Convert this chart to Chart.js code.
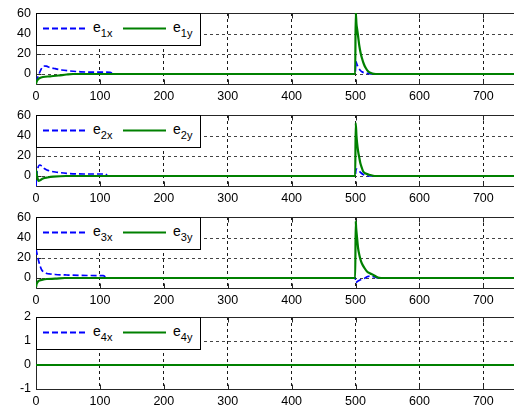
<!DOCTYPE html>
<html>
<head>
<meta charset="utf-8">
<script src="https://cdn.jsdelivr.net/npm/chart.js@4.4.1/dist/chart.umd.min.js"></script>
<style>
  html, body { margin: 0; padding: 0; background: #fff; overflow: hidden; width: 514px; height: 410px; }
  canvas { position: absolute; left: 0; }
  svg.leg { position: absolute; left: 36px; }
  svg.leg text { font-family: 'Liberation Sans', Arial, sans-serif; fill: #000; }
</style>
</head>
<body>
<canvas id="c1" width="514" height="106" style="top:0px"></canvas>
<canvas id="c2" width="514" height="106" style="top:102px"></canvas>
<canvas id="c3" width="514" height="106" style="top:204px"></canvas>
<canvas id="c4" width="514" height="107" style="top:304px"></canvas>
<div id="legends"></div>
<script>
// ---- tick labels ----
const xTicks = [0, 100, 200, 300, 400, 500, 600, 700];
const yTicksErr = [0, 20, 40, 60];
const yTicksZ = [-1, 0, 1, 2];

// ---- subplot 1 ----
const t1x = [0, 3, 6, 9, 12, 16, 22, 30, 40, 50, 70, 90, 116, 122, 499.5, 500.6, 502, 504, 507, 510, 514, 520, 528, 750];
const e1x = [-8, -3, 2, 6, 8, 7.8, 6.5, 5.3, 4, 3.2, 2.2, 1.9, 1.7, 0, 0, 12.5, 10, 7, 4, 2.2, 1.2, 0.5, 0, 0];
const t1y = [0, 1, 3, 6, 11, 22, 35, 48, 58, 499.5, 500.3, 501.5, 502.5, 504, 506, 508, 510, 513, 516, 520, 525, 532, 750];
const e1y = [-10, -7.5, -5.5, -4, -3, -2.3, -1.5, -0.5, 0, 0, 62, 50, 45, 38, 28, 21, 16, 10, 6, 2.5, 0.8, 0, 0];

// ---- subplot 2 ----
const t2x = [0, 1, 3, 6, 9, 13, 17, 22, 30, 48, 74, 108, 113, 499.5, 501, 504, 508, 512, 520, 750];
const e2x = [-10, 0, 8, 11, 10, 7.5, 6, 5, 4, 2.7, 2, 2, 0, 0, 7, 6, 3.5, 1.5, 0, 0];
const t2y = [0, 2, 4, 7, 11, 18, 27, 47, 499.5, 500.3, 501.5, 502.5, 504, 506, 507.5, 510, 512, 516, 523, 530, 750];
const e2y = [6, -1, -5, -4, -2.5, -1.5, -0.7, 0, 0, 53, 40, 33, 25, 18, 13, 8, 4.5, 2.5, 1, 0, 0];

// ---- subplot 3 ----
const t3x = [0, 2, 5, 7, 9, 13, 17, 22, 30, 48, 80, 105, 112, 499.5, 500.3, 504, 507, 511, 515, 519, 523, 530, 536, 750];
const e3x = [29, 23, 15, 11, 8, 5.5, 4.5, 4, 3.5, 3, 2.5, 2.3, 0, 0, -4.5, -3, -2, -1, 0, 1.5, 2, 1, 0, 0];
const t3y = [0, 1, 4, 9, 17, 30, 45, 499.5, 500.3, 501, 502, 504, 506, 508, 510, 514, 518, 523, 528, 535, 540, 750];
const e3y = [-9, -6, -3, -2, -1, -0.7, 0, 0, 57, 50, 43, 30, 23, 18, 14.5, 10, 6.5, 4.5, 3, 0.5, 0, 0];

// ---- subplot 4 ----
const t4 = [0, 750];
const e4x = [0, 0];
const e4y = [0, 0];

const FONT = "'Liberation Sans', Arial, sans-serif";
const BLUE = '#0000ff';
const GREEN = '#008000';

const toXY = (ts, vs) => ts.map((t, i) => ({ x: t, y: vs[i] }));

const boxPlugin = {
  id: 'matlabBox',
  beforeDatasetsDraw(chart) {
    const { ctx, chartArea: a, scales } = chart;
    const L = Math.round(a.left) + 0.5, T = Math.round(a.top) + 0.5, B = Math.round(a.bottom) + 0.5, R = a.right + 1;
    ctx.save();
    ctx.strokeStyle = '#262626';
    ctx.lineWidth = 1;
    ctx.beginPath();
    ctx.moveTo(R, T); ctx.lineTo(L, T); ctx.lineTo(L, B); ctx.lineTo(R, B);
    scales.x.ticks.forEach(tk => {
      const px = Math.round(scales.x.getPixelForValue(tk.value)) + 0.5;
      ctx.moveTo(px, B); ctx.lineTo(px, B - 5);
      ctx.moveTo(px, T); ctx.lineTo(px, T + 5);
    });
    scales.y.ticks.forEach(tk => {
      const py = Math.round(scales.y.getPixelForValue(tk.value)) + 0.5;
      ctx.moveTo(L, py); ctx.lineTo(L + 5, py);
    });
    ctx.stroke();
    ctx.restore();
  }
};

function makeChart(id, tx, vx, ty, vy, yMin, yMax, yTicks) {
  return new Chart(document.getElementById(id), {
    type: 'line',
    data: {
      datasets: [
        { label: 'y', data: toXY(ty, vy), borderColor: GREEN, borderWidth: 2.2, pointRadius: 0,
          fill: false, order: 0, cubicInterpolationMode: 'monotone' },
        { label: 'x', data: toXY(tx, vx), borderColor: BLUE, borderWidth: 1.7, borderDash: [6, 3],
          pointRadius: 0, fill: false, order: 1, cubicInterpolationMode: 'monotone' }
      ]
    },
    options: {
      responsive: false,
      animation: false,
      events: [],
      layout: { padding: { top: 13, left: 0, right: 0, bottom: 0 } },
      plugins: { legend: { display: false }, tooltip: { enabled: false } },
      scales: {
        x: {
          type: 'linear', min: 0, max: 748,
          afterBuildTicks: s => { s.ticks = xTicks.map(v => ({ value: v })); },
          afterFit: s => { s.height = 22; },
          grid: { color: '#1a1a1a', lineWidth: 1, drawTicks: false },
          border: { display: false, dash: [3, 3] },
          ticks: { padding: 5, autoSkip: false, maxRotation: 0, color: '#000', font: { family: FONT, size: 12.5 } }
        },
        y: {
          type: 'linear', min: yMin, max: yMax,
          afterBuildTicks: s => { s.ticks = yTicks.map(v => ({ value: v })); },
          afterFit: s => { s.width = 36; },
          grid: { color: '#444', lineWidth: 1, drawTicks: false },
          border: { display: false, dash: [3, 3] },
          ticks: { padding: 5, autoSkip: false, color: '#000', font: { family: FONT, size: 12.5 } }
        }
      }
    },
    plugins: [boxPlugin]
  });
}

makeChart('c1', t1x, e1x, t1y, e1y, -10, 61, yTicksErr);
makeChart('c2', t2x, e2x, t2y, e2y, -10, 61, yTicksErr);
makeChart('c3', t3x, e3x, t3y, e3y, -10, 61, yTicksErr);
makeChart('c4', t4, e4x, t4, e4y, -1, 2, yTicksZ);

// ---- legends (MATLAB style boxes) ----
const legendTops = [13, 115, 217, 317];
const legendNames = ['1', '2', '3', '4'];
const host = document.getElementById('legends');
legendTops.forEach((top, i) => {
  const n = legendNames[i];
  host.insertAdjacentHTML('beforeend',
    `<svg class="leg" style="top:${top}px" width="165" height="33" xmlns="http://www.w3.org/2000/svg">
      <rect x="0.5" y="0.5" width="164" height="32" fill="#fff" stroke="#000" stroke-width="1"/>
      <line x1="7" y1="15.5" x2="49" y2="15.5" stroke="${BLUE}" stroke-width="2" stroke-dasharray="6 3"/>
      <text x="57" y="18.5" font-size="14">e<tspan font-size="11" dy="5">${n}x</tspan></text>
      <line x1="87" y1="15.5" x2="130" y2="15.5" stroke="${GREEN}" stroke-width="2"/>
      <text x="137" y="18.5" font-size="14">e<tspan font-size="11" dy="5">${n}y</tspan></text>
    </svg>`);
});
</script>
</body>
</html>
